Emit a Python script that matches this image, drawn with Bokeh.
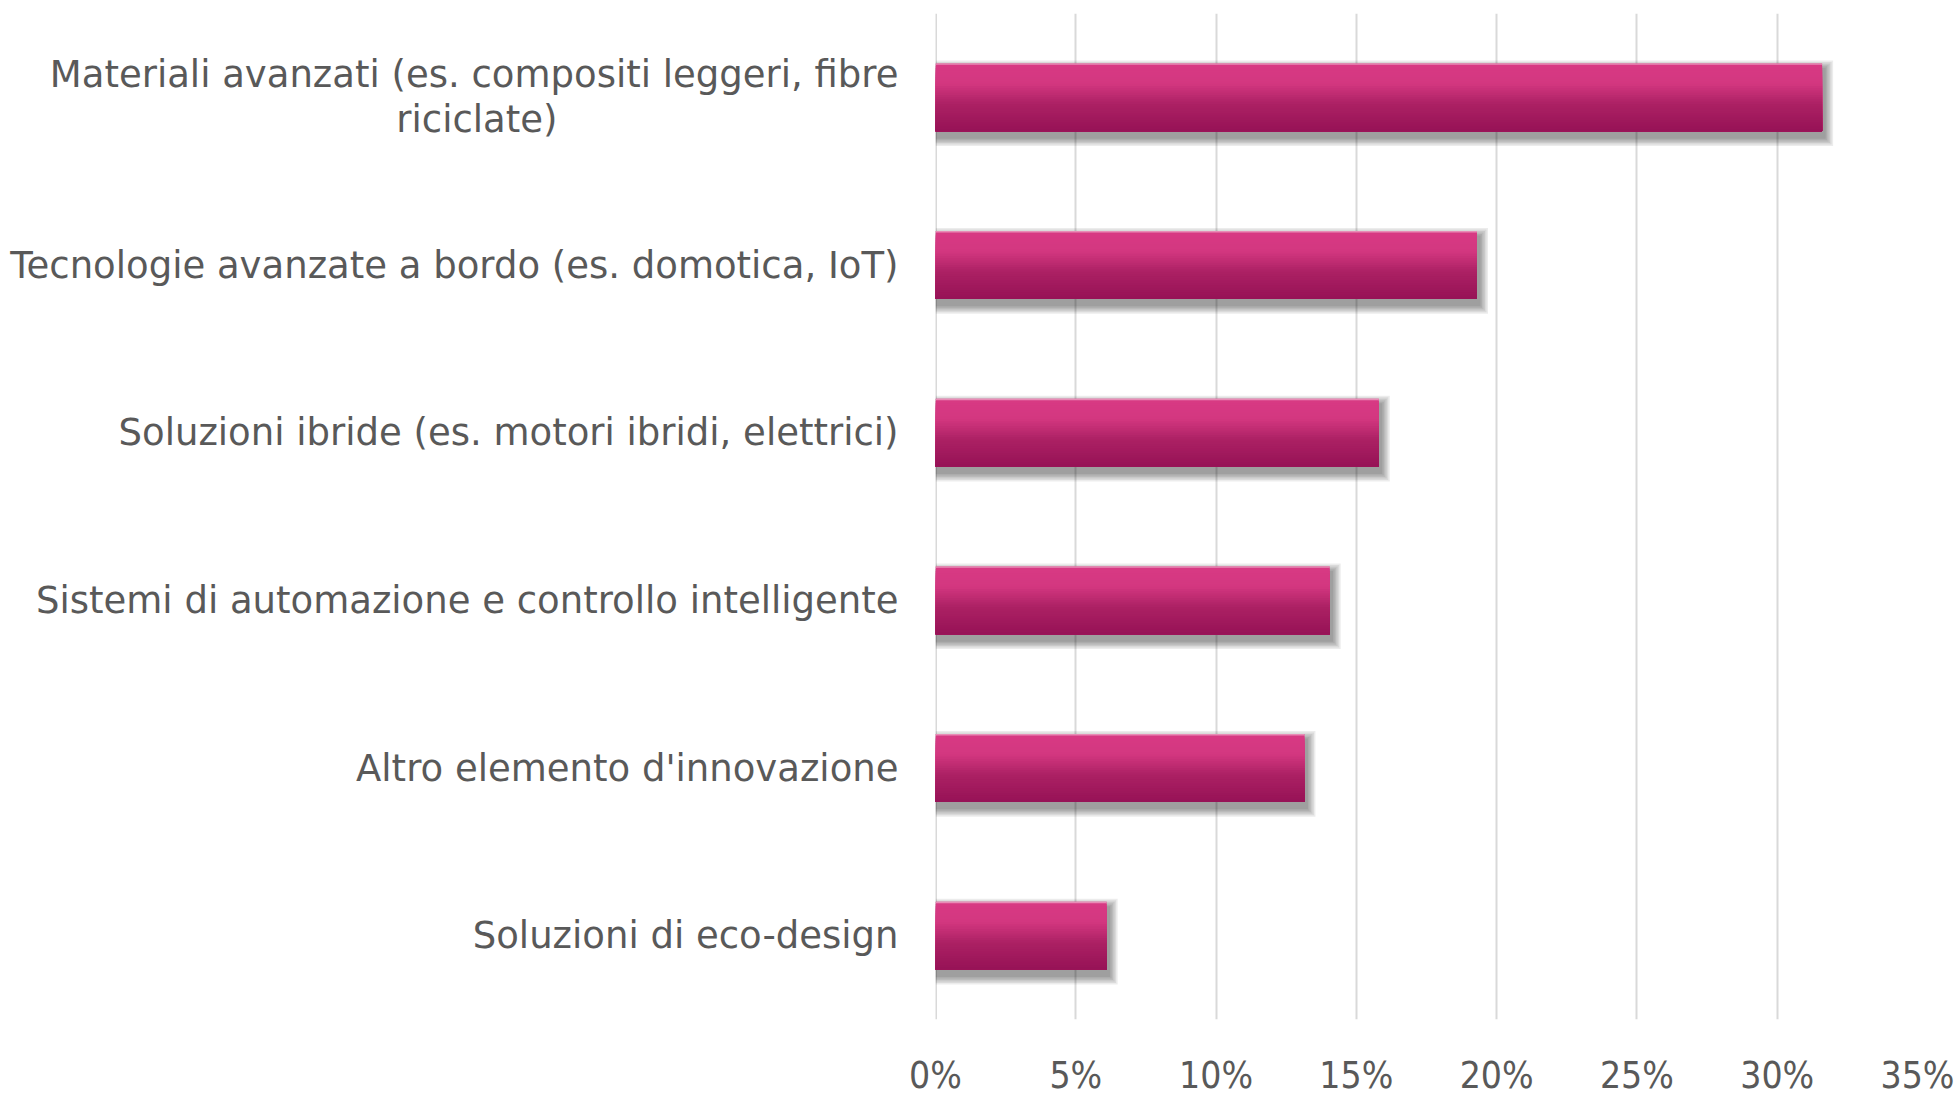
from bokeh.plotting import figure
from bokeh.models import Range1d, FixedTicker, Span
from bokeh.embed import file_html
from bokeh.resources import INLINE

NB = "\u00a0"
categories = [
    "Materiali avanzati (es. compositi leggeri, fibre\nriciclate)" + NB * 29,
    "Tecnologie avanzate a bordo (es. domotica, IoT)",
    "Soluzioni ibride (es. motori ibridi, elettrici)",
    "Sistemi di automazione e controllo intelligente",
    "Altro elemento d'innovazione",
    "Soluzioni di eco-design",
]
values = [31.6, 19.3, 15.8, 14.05, 13.15, 6.1]
x_ticks = [0, 5, 10, 15, 20, 25, 30, 35]
x_tick_labels = ["0%", "5%", "10%", "15%", "20%", "25%", "30%", "35%"]

pos = list(range(len(categories)))
n = len(values)

W, H = 1959, 1099
p = figure(width=W, height=H, output_backend="svg", toolbar_location=None,
           x_range=Range1d(0, 35), y_range=Range1d(n - 0.5, -0.5),
           min_border_left=935, min_border_right=W - 935 - 982,
           min_border_top=13, min_border_bottom=H - 13 - 1019)
p.outline_line_color = None
p.background_fill_color = "white"

p.xgrid.ticker = FixedTicker(ticks=x_ticks)
p.xgrid.grid_line_color = "#d9d9d9"
p.xgrid.grid_line_width = 2
p.ygrid.grid_line_color = None
p.add_layout(Span(location=x_ticks[0], dimension="height", line_color="#d9d9d9",
                  line_width=3, level="underlay"))

bar_h = 0.405
px_y = 1.0 / 170.0
px_x = 1.0 / 28.04

# soft shadow
for k in range(6):
    grow = (k + 1) * 1.5
    p.hbar(y=[v + 6 * px_y for v in pos], right=[v + (2 + grow) * px_x for v in values],
           left=[0] * n, height=bar_h + 2 * grow * px_y,
           fill_color="black", fill_alpha=0.075, line_color=None)

# vertical gradient
stops = [(0.0, (216, 58, 132)), (0.3, (211, 55, 128)), (0.6, (172, 33, 100)), (1.0, (150, 18, 86))]
def col(t):
    for (t0, c0), (t1, c1) in zip(stops[:-1], stops[1:]):
        if t0 <= t <= t1:
            f = (t - t0) / (t1 - t0)
            return "#%02x%02x%02x" % tuple(int(round(a + (b - a) * f)) for a, b in zip(c0, c1))
    return "#%02x%02x%02x" % stops[-1][1]

N = 30
sh = bar_h / N
for j in range(N):
    t = (j + 0.5) / N
    hh = bar_h - j * sh
    p.hbar(y=[v - bar_h / 2 + j * sh + hh / 2 for v in pos], right=values, left=[0] * n,
           height=hh, fill_color=col(t), line_color=None)
# light top edge
p.hbar(y=[v - bar_h / 2 + 0.75 * px_y for v in pos], right=values, left=[0] * n,
       height=1.5 * px_y, fill_color="#e88cb6", line_color=None)

p.xaxis.ticker = FixedTicker(ticks=x_ticks)
p.xaxis.major_label_overrides = {t: l for t, l in zip(x_ticks, x_tick_labels)}
p.xaxis.axis_line_color = None
p.xaxis.major_tick_line_color = None
p.xaxis.minor_tick_line_color = None
p.xaxis.major_label_text_font = "DejaVu Sans Condensed"
p.xaxis.major_label_text_font_size = "37px"
p.xaxis.major_label_text_color = "#595959"
p.xaxis.major_label_standoff = 28

p.yaxis.ticker = FixedTicker(ticks=pos)
p.yaxis.major_label_overrides = {i: c for i, c in zip(pos, categories)}
p.yaxis.axis_line_color = None
p.yaxis.major_tick_line_color = None
p.yaxis.minor_tick_line_color = None
p.yaxis.major_label_text_font = "DejaVu Sans"
p.yaxis.major_label_text_font_size = "37px"
p.yaxis.major_label_text_line_height = 1.05
p.yaxis.major_label_text_color = "#595959"
p.yaxis.major_label_standoff = 31

open("out.html", "w").write(file_html(p, INLINE))
